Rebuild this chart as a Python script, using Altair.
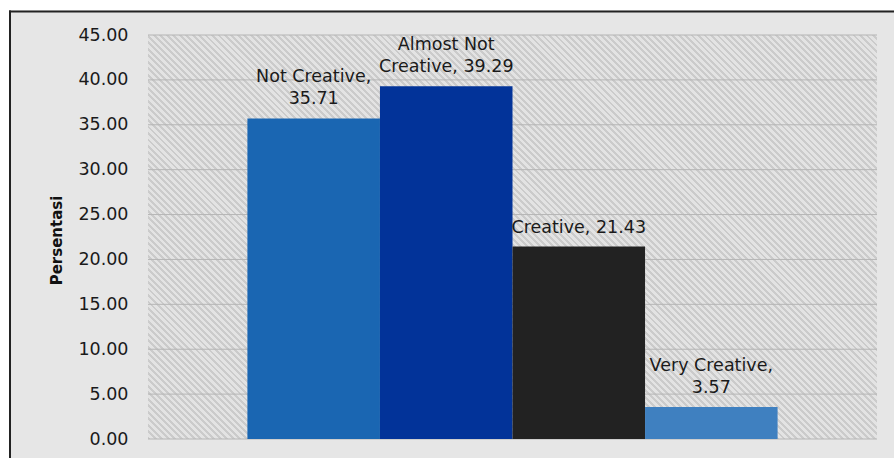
import altair as alt
import pandas as pd

# ---- data ----
categories = ["Not Creative", "Almost Not Creative", "Creative", "Very Creative"]
values = [35.71, 39.29, 21.43, 3.57]
labels = ["Not Creative,\n35.71", "Almost Not\nCreative, 39.29", "Creative, 21.43", "Very Creative,\n3.57"]
y_ticks = [0, 5, 10, 15, 20, 25, 30, 35, 40, 45]
bar_colors = ["#1a66b2", "#023399", "#222222", "#3f80c0"]

W, H = 729, 404
FONT = "DejaVu Sans"

line1 = [l.split("\n")[0] if "\n" in l else "" for l in labels]
line2 = [l.split("\n")[-1] for l in labels]
df = pd.DataFrame({"category": categories, "value": values, "line1": line1, "line2": line2})
ticks_df = pd.DataFrame({"tick": y_ticks})
one = pd.DataFrame({"a": [0]})

yscale = alt.Scale(domain=[0, 45], nice=False, zero=True)
yaxis = alt.Axis(
    title="Persentasi", values=y_ticks, format=".2f", grid=False, domain=False, ticks=False,
    labelFont=FONT, labelFontSize=17.5, labelColor="#1a1a1a", labelPadding=20,
    titleFont=FONT, titleFontSize=15, titleFontWeight="bold", titleColor="#111111",
    titleAngle=270, titleAlign="center", titleBaseline="middle", titleX=-92, titleY=205,
)
xenc = alt.X("category:N", sort=categories,
             scale=alt.Scale(paddingInner=0, paddingOuter=0.75), axis=None)

# hatch pattern (style only) via a many-stop linear gradient
N = 225
light, dark = "#e3e3e3", "#cbcbcb"
stops = []
for i in range(N):
    b = i / N
    stops += [
        alt.GradientStop(offset=round(b, 6), color=dark),
        alt.GradientStop(offset=round(b + 0.45 / N, 6), color=dark),
        alt.GradientStop(offset=round(b + 0.45 / N, 6), color=light),
        alt.GradientStop(offset=round(min(1.0, b + 1 / N), 6), color=light),
    ]
hatch_fill = alt.LinearGradient(gradient="linear", stops=stops, x1=0, y1=1, x2=1, y2=0)

hatch = alt.Chart(one).mark_rect(clip=True, fill=hatch_fill).encode(
    x=alt.value(0), x2=alt.value(W), y=alt.value(H - W), y2=alt.value(H)
)

grid = alt.Chart(ticks_df).mark_rule(color="#b5b5b5", strokeWidth=1).encode(
    y=alt.Y("tick:Q", scale=yscale, axis=yaxis), x=alt.value(0), x2=alt.value(W)
)

bars = alt.Chart(df).mark_bar().encode(
    x=xenc,
    y=alt.Y("value:Q", scale=yscale, axis=yaxis),
    color=alt.Color("category:N", scale=alt.Scale(domain=categories, range=bar_colors), legend=None),
)

text_style = dict(baseline="bottom", align="center", font=FONT, fontSize=17.5, color="#1a1a1a")
text_bottom = alt.Chart(df).mark_text(dy=-10, **text_style).encode(
    x=xenc, y=alt.Y("value:Q", scale=yscale, axis=yaxis), text="line2:N"
)
text_top = alt.Chart(df).mark_text(dy=-32, **text_style).encode(
    x=xenc, y=alt.Y("value:Q", scale=yscale, axis=yaxis), text="line1:N"
)

# outer frame decoration (white margins + dark border lines)
white_left = alt.Chart(one).mark_rect(fill="white").encode(
    x=alt.value(-160), x2=alt.value(-139), y=alt.value(-60), y2=alt.value(480))
white_top = alt.Chart(one).mark_rect(fill="white").encode(
    x=alt.value(-160), x2=alt.value(800), y=alt.value(-60), y2=alt.value(-24.5))
line_left = alt.Chart(one).mark_rect(fill="#222222").encode(
    x=alt.value(-139), x2=alt.value(-137), y=alt.value(-24.5), y2=alt.value(480))
line_top = alt.Chart(one).mark_rect(fill="#222222").encode(
    x=alt.value(-139), x2=alt.value(800), y=alt.value(-24.5), y2=alt.value(-22.5))

chart = alt.layer(
    hatch, grid, bars, text_bottom, text_top, white_left, white_top, line_left, line_top
).properties(
    width=W, height=H, background="#e6e6e6",
    padding={"left": 148, "top": 35, "right": 17, "bottom": 19},
    autosize=alt.AutoSizeParams(type="none"),
).configure_view(stroke=None)

chart.save("out.html", embed_options={"renderer": "svg", "actions": False})
